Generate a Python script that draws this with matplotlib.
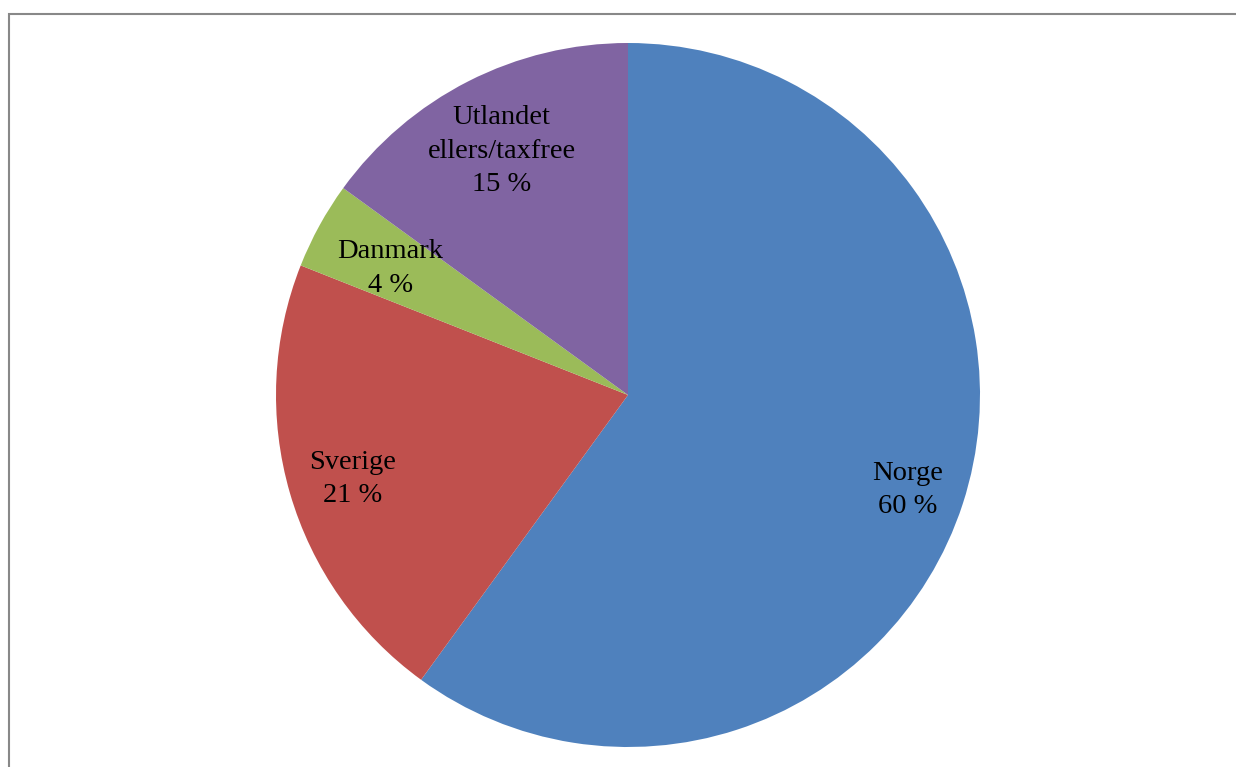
import numpy as np
import matplotlib
matplotlib.use('Agg')
import matplotlib.pyplot as plt
from matplotlib.patches import Rectangle

# Share of purchases by country
categories = ['Norge', 'Sverige', 'Danmark', 'Utlandet\nellers/taxfree']
shares = [60, 21, 4, 15]
colors = ['#4F81BD', '#C0504D', '#9BBB59', '#8064A2']
# radial position of each label, as a fraction of the radius
label_dist = [0.835, 0.815, 0.77, 0.79]

plt.rcParams['font.family'] = ['Liberation Serif', 'DejaVu Serif']

W, H = 1236, 767
fig = plt.figure(figsize=(W / 100, H / 100), dpi=100)

# chart frame, runs off the right and bottom edge
fig.patches.append(Rectangle((8.5 / W, -0.1), 1.2, 1 - 13.5 / H + 0.1,
                             transform=fig.transFigure, fill=False,
                             edgecolor='#888888', linewidth=1.5))

ax = fig.add_axes([276 / W, 20 / H, 704 / W, 704 / H])
wedges, _ = ax.pie(shares, colors=colors, startangle=90, counterclock=False,
                   radius=1, wedgeprops=dict(linewidth=0))

for w, name, val, d in zip(wedges, categories, shares, label_dist):
    mid = np.deg2rad((w.theta1 + w.theta2) / 2)
    ax.annotate(f'{name}\n{val} %', (d * np.cos(mid), d * np.sin(mid)),
                xytext=(0, -4), textcoords='offset pixels',
                ha='center', va='center', fontsize=20.5, linespacing=1.45)

ax.set_xlim(-1, 1)
ax.set_ylim(-1, 1)
ax.set_aspect('equal')
ax.axis('off')

fig.savefig('out.png', dpi=100)
